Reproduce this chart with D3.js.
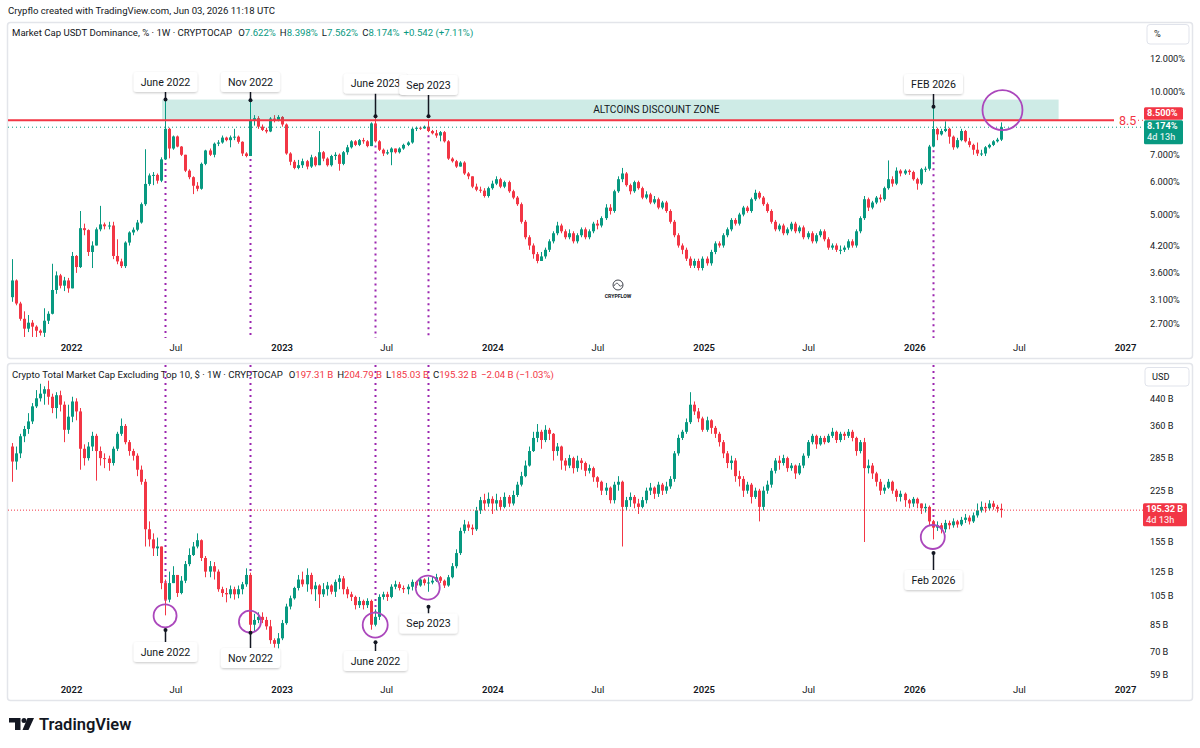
<!DOCTYPE html>
<html>
<head>
<meta charset="utf-8">
<script src="https://cdn.jsdelivr.net/npm/d3@7"></script>
<style>
  body { margin: 0; background: #fff; }
  text { font-family: Roboto, "Noto Sans", sans-serif; }
</style>
</head>
<body>
<svg id="chart" width="1200" height="748"></svg>
<script>
// weekly bars, first bar starts this monday
const firstWeek = "2021-09-20";

// Market Cap USDT Dominance, % (weekly)
const usdtOpen0 = 3.14;
const usdtClose = [
  3.45, 3.03, 2.78, 2.63, 2.72, 2.66, 2.60, 2.57, 2.75, 2.86,
  3.27, 3.55, 3.35, 3.45, 3.30, 3.96, 3.72, 4.63, 4.58, 4.05,
  4.20, 4.60, 4.73, 4.68, 4.70, 3.96, 3.84, 3.74, 4.27, 4.52,
  4.59, 4.78, 5.30, 5.94, 6.23, 6.25, 6.05, 6.82, 8.10, 7.25,
  7.76, 7.33, 7.00, 6.40, 6.17, 5.88, 5.78, 6.65, 7.17, 7.00,
  7.45, 7.50, 7.71, 7.60, 7.72, 7.75, 7.53, 7.05, 6.95, 8.50,
  8.60, 8.20, 8.05, 7.98, 8.58, 8.50, 8.66, 8.30, 7.05, 6.73,
  6.50, 6.60, 6.75, 6.55, 6.90, 6.60, 7.10, 6.85, 6.60, 6.95,
  7.00, 6.65, 7.10, 7.30, 7.55, 7.40, 7.60, 7.55, 7.35, 8.35,
  7.55, 7.20, 7.05, 7.10, 7.25, 7.10, 7.25, 7.40, 7.50, 8.10,
  8.15, 8.12, 8.20, 8.00, 7.90, 7.80, 7.95, 7.55, 6.85, 6.75,
  6.55, 6.70, 6.30, 6.20, 5.85, 5.75, 5.72, 5.55, 5.80, 5.95,
  6.10, 5.85, 6.00, 5.70, 5.50, 5.30, 4.80, 4.40, 4.20, 4.00,
  3.85, 3.95, 4.10, 4.30, 4.50, 4.70, 4.55, 4.40, 4.50, 4.30,
  4.45, 4.60, 4.40, 4.55, 4.75, 4.70, 4.90, 5.20, 5.10, 5.70,
  6.10, 6.30, 5.90, 5.70, 6.00, 5.80, 5.50, 5.60, 5.35, 5.45,
  5.20, 5.35, 5.10, 4.80, 4.45, 4.20, 4.10, 3.90, 3.75, 3.85,
  3.70, 3.90, 3.80, 4.05, 4.25, 4.20, 4.45, 4.60, 4.85, 4.75,
  5.00, 5.20, 5.10, 5.45, 5.65, 5.50, 5.30, 5.10, 4.80, 4.60,
  4.70, 4.50, 4.60, 4.75, 4.55, 4.65, 4.40, 4.50, 4.30, 4.45,
  4.55, 4.35, 4.15, 4.20, 4.10, 4.10, 4.15, 4.30, 4.20, 4.55,
  4.90, 5.45, 5.20, 5.35, 5.50, 5.45, 5.80, 6.10, 5.95, 6.40,
  6.30, 6.40, 6.35, 6.10, 5.95, 6.45, 6.47, 7.33, 8.09, 7.85,
  8.00, 8.10, 7.75, 7.30, 7.60, 8.00, 7.55, 7.40, 7.20, 7.05,
  7.05, 7.30, 7.40, 7.55, 7.622, 8.174
];
const usdtHigh = [
  3.89, 3.47, 3.06, 2.90, 2.84, 2.76, 2.68, 2.62, 2.95, 2.90,
  3.79, 3.63, 3.58, 3.52, 3.50, 4.05, 3.98, 5.10, 4.75, 4.60,
  4.30, 4.65, 5.25, 4.78, 4.80, 4.80, 4.35, 3.90, 4.30, 4.55,
  4.65, 4.85, 5.35, 7.22, 6.30, 6.35, 6.30, 6.90, 9.55, 8.15,
  7.80, 7.80, 7.35, 7.00, 6.45, 6.20, 6.00, 6.70, 7.20, 7.25,
  7.50, 7.60, 7.80, 7.75, 7.80, 8.10, 7.80, 7.55, 7.10, 9.52,
  8.75, 8.70, 8.30, 8.15, 8.65, 8.75, 8.75, 8.70, 8.35, 7.10,
  6.80, 6.80, 6.85, 6.80, 7.00, 6.95, 8.00, 7.15, 6.90, 7.00,
  7.10, 7.05, 7.15, 7.40, 7.60, 7.60, 7.65, 7.70, 7.60, 8.40,
  8.75, 7.60, 7.25, 7.20, 7.30, 7.25, 7.30, 7.45, 7.55, 8.15,
  8.20, 8.20, 8.25, 8.50, 8.05, 8.05, 8.00, 8.00, 7.60, 6.90,
  6.80, 6.75, 6.75, 6.35, 6.20, 5.95, 5.85, 5.80, 5.85, 6.05,
  6.20, 6.15, 6.05, 6.05, 5.75, 5.55, 5.35, 4.85, 4.45, 4.25,
  4.05, 4.05, 4.15, 4.35, 4.55, 4.80, 4.75, 4.60, 4.60, 4.55,
  4.50, 4.65, 4.65, 4.60, 4.80, 4.85, 4.95, 5.30, 5.30, 5.75,
  6.20, 6.50, 6.35, 5.95, 6.05, 6.05, 5.85, 5.70, 5.65, 5.55,
  5.50, 5.40, 5.40, 5.15, 4.85, 4.50, 4.25, 4.15, 3.95, 3.90,
  3.90, 3.95, 3.95, 4.10, 4.30, 4.30, 4.50, 4.65, 4.90, 4.90,
  5.05, 5.25, 5.25, 5.50, 5.75, 5.70, 5.55, 5.35, 5.15, 4.85,
  4.75, 4.75, 4.65, 4.80, 4.80, 4.70, 4.70, 4.55, 4.55, 4.50,
  4.60, 4.60, 4.40, 4.25, 4.25, 4.20, 4.20, 4.35, 4.35, 4.60,
  4.95, 5.55, 5.50, 5.40, 5.55, 5.60, 5.85, 6.78, 6.20, 6.52,
  6.45, 6.45, 6.45, 6.40, 6.15, 6.50, 6.55, 7.40, 9.17, 8.15,
  8.10, 8.45, 8.15, 7.80, 7.70, 8.10, 8.05, 7.70, 7.45, 7.50,
  7.20, 7.35, 7.45, 7.60, 7.70, 8.398
];
const usdtLow = [
  3.06, 3.00, 2.75, 2.51, 2.58, 2.51, 2.51, 2.53, 2.51, 2.70,
  2.85, 3.20, 3.30, 3.25, 3.22, 3.30, 3.60, 3.70, 4.45, 3.96,
  3.70, 4.20, 4.55, 4.60, 4.60, 3.89, 3.78, 3.70, 3.70, 4.20,
  4.45, 4.55, 4.75, 5.25, 5.88, 5.90, 5.95, 6.00, 6.80, 6.86,
  7.20, 7.30, 6.95, 6.35, 6.10, 5.61, 5.70, 5.75, 6.60, 6.95,
  6.90, 7.35, 7.45, 7.55, 7.30, 7.60, 7.45, 6.95, 6.90, 6.95,
  8.25, 8.10, 8.00, 7.90, 7.95, 8.40, 8.45, 8.20, 7.00, 6.60,
  6.45, 6.45, 6.50, 6.45, 6.50, 6.55, 6.60, 6.75, 6.55, 6.55,
  6.80, 6.40, 6.60, 7.00, 7.25, 7.35, 7.35, 7.45, 7.30, 7.35,
  7.50, 7.15, 6.95, 7.00, 6.60, 7.05, 7.05, 7.20, 7.35, 7.45,
  8.00, 8.05, 8.10, 7.95, 7.85, 7.70, 7.55, 7.50, 6.80, 6.70,
  6.50, 6.55, 6.25, 6.10, 5.80, 5.70, 5.65, 5.50, 5.50, 5.75,
  5.90, 5.80, 5.80, 5.65, 5.45, 5.25, 4.75, 4.35, 4.10, 3.90,
  3.80, 3.85, 3.90, 4.05, 4.25, 4.45, 4.50, 4.35, 4.35, 4.25,
  4.25, 4.40, 4.35, 4.35, 4.50, 4.60, 4.65, 4.85, 5.00, 5.05,
  5.65, 6.00, 5.85, 5.60, 5.65, 5.75, 5.45, 5.45, 5.30, 5.30,
  5.15, 5.15, 5.05, 4.75, 4.40, 4.15, 4.00, 3.85, 3.70, 3.70,
  3.65, 3.65, 3.75, 3.75, 4.00, 4.15, 4.15, 4.40, 4.55, 4.70,
  4.70, 4.95, 5.05, 5.05, 5.40, 5.45, 5.25, 5.05, 4.75, 4.55,
  4.55, 4.45, 4.45, 4.55, 4.50, 4.50, 4.35, 4.35, 4.25, 4.25,
  4.40, 4.30, 4.10, 4.10, 4.05, 4.00, 4.05, 4.10, 4.15, 4.15,
  4.50, 4.85, 5.10, 5.15, 5.30, 5.35, 5.40, 5.75, 5.85, 5.90,
  6.20, 6.25, 6.25, 6.05, 5.75, 5.90, 6.35, 6.40, 7.30, 7.60,
  7.80, 7.95, 7.45, 7.20, 7.25, 7.55, 7.50, 7.30, 7.00, 6.95,
  6.95, 6.95, 7.25, 7.35, 7.50, 7.562
];

// Crypto Total Market Cap Excluding Top 10, $ billions (weekly)
const othersOpen0 = 310;
const othersClose = [
  278, 295, 334, 352, 372, 415, 440, 455, 470, 445,
  410, 450, 420, 350, 385, 430, 400, 305, 285, 310,
  335, 300, 285, 284, 275, 305, 340, 360, 320, 300,
  290, 262, 240, 170, 158, 148, 150, 115, 102, 115,
  122, 107, 117, 132, 141, 150, 157, 138, 125, 130,
  125, 110, 107, 106, 110, 106, 110, 114, 122, 85,
  88, 90, 88, 84, 76, 74, 77, 86, 97, 103,
  111, 118, 114, 122, 110, 113, 106, 110, 113, 108,
  116, 119, 110, 106, 104, 98, 101, 98, 101, 85,
  90, 104, 106, 104, 112, 114, 111, 110, 112, 116,
  113, 118, 115, 115.5, 117, 120, 117, 113, 120, 130,
  143, 168, 176, 172, 170, 195, 210, 205, 212, 205,
  210, 200, 215, 205, 218, 235, 250, 270, 300, 330,
  345, 325, 350, 340, 300, 310, 280, 270, 285, 265,
  280, 275, 260, 265, 248, 240, 225, 230, 210, 235,
  240, 200, 210, 215, 205, 200, 210, 225, 230, 220,
  235, 225, 232, 245, 295, 330, 345, 370, 420, 400,
  380, 350, 375, 355, 340, 320, 295, 275, 280, 250,
  245, 225, 235, 215, 225, 200, 225, 235, 260, 280,
  275, 285, 265, 270, 255, 270, 290, 320, 335, 315,
  330, 320, 335, 345, 325, 340, 335, 345, 330, 300,
  320, 265, 270, 255, 240, 225, 230, 240, 225, 215,
  220, 210, 205, 212, 205, 198, 200, 180, 172, 175,
  170, 178, 175, 180, 176, 182, 185, 180, 188, 195,
  200, 198, 205, 200, 197.31, 195.32
];
const othersHigh = [
  318, 310, 340, 360, 395, 425, 467, 489, 480, 500,
  455, 460, 465, 430, 420, 445, 440, 410, 315, 320,
  345, 340, 310, 295, 290, 310, 345, 380, 365, 325,
  305, 295, 270, 245, 180, 165, 160, 150, 118, 125,
  130, 122, 121, 135, 148, 155, 165, 158, 140, 135,
  134, 127, 112, 111, 113, 112, 113, 116, 128, 124,
  92, 93, 93, 90, 88, 77, 80, 88, 99, 105,
  112, 122, 125, 128, 124, 116, 114, 115, 116, 114,
  118, 122, 121, 112, 108, 105, 104, 102, 103, 102,
  95, 106, 108, 108, 114, 117, 116, 113, 114, 118,
  117, 120, 119, 120, 121, 123, 121, 118, 122, 133,
  147, 172, 182, 180, 176, 200, 215, 220, 222, 216,
  220, 215, 222, 218, 225, 240, 258, 280, 310, 345,
  365, 350, 362, 355, 342, 318, 312, 285, 292, 288,
  290, 285, 278, 272, 268, 250, 242, 238, 232, 240,
  250, 242, 215, 222, 218, 212, 215, 230, 238, 232,
  240, 238, 240, 250, 300, 338, 350, 380, 460, 430,
  410, 385, 385, 378, 360, 345, 325, 300, 290, 285,
  260, 250, 240, 238, 230, 228, 232, 242, 265, 285,
  290, 292, 288, 275, 272, 275, 295, 325, 340, 338,
  335, 335, 340, 355, 348, 345, 345, 352, 350, 333,
  325, 330, 282, 275, 258, 245, 235, 245, 242, 228,
  225, 222, 212, 215, 214, 205, 205, 202, 182, 180,
  178, 182, 181, 184, 182, 186, 190, 188, 192, 205,
  208, 206, 210, 209, 203, 204.79
];
const othersLow = [
  240, 262, 285, 320, 340, 365, 410, 430, 420, 420,
  395, 380, 400, 320, 340, 370, 375, 262, 270, 280,
  300, 242, 270, 265, 260, 270, 300, 335, 315, 290,
  280, 250, 235, 150, 150, 140, 140, 110, 91, 100,
  115, 104, 106, 115, 130, 140, 148, 135, 120, 120,
  118, 108, 104, 100, 103, 102, 103, 106, 112, 80,
  81, 86, 86, 82, 74, 72, 70, 76, 85, 95,
  102, 109, 112, 108, 106, 101, 96, 104, 105, 106,
  104, 110, 106, 103, 101, 95, 96, 95, 96, 82,
  84, 88, 102, 101, 103, 110, 109, 107, 106, 109,
  111, 112, 113, 108, 114, 116, 115, 111, 112, 119,
  128, 141, 165, 168, 163, 168, 190, 195, 200, 190,
  195, 195, 198, 200, 202, 215, 232, 248, 268, 298,
  320, 305, 320, 325, 280, 290, 262, 260, 265, 255,
  258, 262, 250, 255, 240, 230, 218, 218, 205, 205,
  225, 150, 195, 200, 198, 190, 198, 205, 218, 212,
  215, 218, 220, 228, 240, 290, 325, 340, 365, 390,
  370, 345, 345, 340, 330, 310, 285, 265, 262, 240,
  232, 215, 220, 205, 212, 180, 195, 220, 230, 255,
  262, 270, 258, 260, 245, 252, 265, 285, 315, 305,
  312, 315, 318, 330, 318, 320, 325, 330, 322, 290,
  295, 155, 255, 245, 232, 218, 220, 228, 220, 208,
  208, 200, 198, 200, 198, 190, 192, 175, 158, 168,
  165, 166, 170, 172, 172, 174, 178, 176, 178, 185,
  192, 192, 195, 196, 192, 185.03
];

const usdtTicks = [12, 10, 7, 6, 5, 4.2, 3.6, 3.1, 2.7];
const othersTicks = [440, 360, 285, 225, 155, 125, 105, 85, 70, 59];
const timeTicks = ["2022-01-01", "2022-07-01", "2023-01-01", "2023-07-01", "2024-01-01",
  "2024-07-01", "2025-01-01", "2025-07-01", "2026-01-01", "2026-07-01", "2027-01-01"];

// annotations (bar index of the marked week)
const eventBars = [38, 59, 90, 103, 228];
const topCallouts = [
  {label: "June 2022", bar: 38, anchor: 9.55, boxY: 82},
  {label: "Nov 2022", bar: 59, anchor: 9.52, boxY: 82},
  {label: "June 2023", bar: 90, anchor: 8.7, boxY: 83.5},
  {label: "Sep 2023", bar: 103, anchor: 8.7, boxY: 85},
  {label: "FEB 2026", bar: 228, anchor: 9.17, boxY: 84}
];
const bottomCallouts = [
  {label: "June 2022", bar: 38, anchor: 81.8, boxY: 652},
  {label: "Nov 2022", bar: 59, anchor: 80.2, boxY: 658},
  {label: "June 2022", bar: 90, anchor: 74.8, boxY: 661},
  {label: "Sep 2023", bar: 103, anchor: 96.9, boxY: 623.5},
  {label: "Feb 2026", bar: 228, anchor: 143, boxY: 580}
];
const bottomCircles = [
  {bar: 38, value: 90.7, r: 11.5},
  {bar: 59, value: 86.9, r: 11},
  {bar: 90, value: 84.8, r: 12.5},
  {bar: 103, value: 111.2, r: 12},
  {bar: 228, value: 160.7, r: 12}
];
const topCircle = {bar: 245, value: 9.0, r: 20};
const zoneTop = 9.55, zoneBottom = 8.5, zoneEnd = "2026-09-08", zoneLabelDate = "2024-10-11";

const upColor = "#089981", downColor = "#f23645", textColor = "#131722";
const purple = "#9c27b0", circleColor = "#ab47bc";

const parseDate = d3.utcParse("%Y-%m-%d");
const t0 = parseDate(firstWeek);
const barDate = i => d3.utcWeek.offset(t0, i);

function makeBars(open0, close, high, low) {
  return close.map((c, i) => ({
    date: barDate(i),
    open: i ? close[i - 1] : open0,
    high: high[i], low: low[i], close: c
  }));
}
const usdtBars = makeBars(usdtOpen0, usdtClose, usdtHigh, usdtLow);
const othersBars = makeBars(othersOpen0, othersClose, othersHigh, othersLow);

const svg = d3.select("#chart");
const plotLeft = 8, plotRight = 1140;

const x = d3.scaleUtc()
  .domain([parseDate("2022-01-01"), parseDate("2027-01-01")])
  .range([71, 1125]);
const yTop = d3.scaleLog().domain([2.7, 12]).range([324, 59]);
const yBot = d3.scaleLog().domain([59, 440]).range([675, 398.3]);

const defs = svg.append("defs");
defs.append("clipPath").attr("id", "clipTop").append("rect")
  .attr("x", plotLeft).attr("y", 23).attr("width", plotRight - plotLeft).attr("height", 315);
defs.append("clipPath").attr("id", "clipBot").append("rect")
  .attr("x", plotLeft).attr("y", 364).attr("width", plotRight - plotLeft).attr("height", 316);
defs.append("clipPath").attr("id", "clipBotAxis").append("rect")
  .attr("x", plotRight).attr("y", 364).attr("width", 60).attr("height", 314);
defs.append("filter").attr("id", "shadow")
  .attr("x", "-20%").attr("y", "-30%").attr("width", "140%").attr("height", "170%")
  .append("feDropShadow")
    .attr("dx", 0).attr("dy", 1).attr("stdDeviation", 1.2)
    .attr("flood-color", "#000").attr("flood-opacity", 0.22);

// header
svg.append("text")
  .attr("x", 8).attr("y", 14)
  .attr("font-size", 9.6).attr("fill", textColor)
  .text("Crypflo created with TradingView.com, Jun 03, 2026 11:18 UTC");

// panel frames
[[22, 336], [363, 337]].forEach(([py, ph]) => {
  svg.append("rect")
    .attr("x", 7.5).attr("y", py + 0.5).attr("width", 1185).attr("height", ph)
    .attr("rx", 3).attr("fill", "#fff").attr("stroke", "#e3e5ea").attr("stroke-width", 1.5);
});

function legend(yPos, name, parts, color) {
  const t = svg.append("text").attr("x", 12).attr("y", yPos)
    .attr("font-size", 9.6).attr("fill", textColor);
  t.append("tspan").text(name);
  parts.forEach(([k, v], i) => {
    const gap = i === 0 ? 6 : 4;
    if (k) {
      t.append("tspan").attr("dx", gap).attr("fill", textColor).text(k);
      t.append("tspan").attr("fill", color).text(v);
    } else {
      t.append("tspan").attr("dx", gap).attr("fill", color).text(v);
    }
  });
}
legend(36, "Market Cap USDT Dominance, % \u00b7 1W \u00b7 CRYPTOCAP",
  [["O", "7.622%"], ["H", "8.398%"], ["L", "7.562%"], ["C", "8.174%"], ["", "+0.542 (+7.11%)"]], upColor);
legend(378, "Crypto Total Market Cap Excluding Top 10, $ \u00b7 1W \u00b7 CRYPTOCAP",
  [["O", "197.31 B"], ["H", "204.79 B"], ["L", "185.03 B"], ["C", "195.32 B"], ["", "\u22122.04 B (\u22121.03%)"]], downColor);

// time axes
function timeAxis(yPos) {
  const g = svg.append("g").attr("transform", `translate(0,${yPos})`);
  g.call(d3.axisBottom(x)
    .tickValues(timeTicks.map(parseDate))
    .tickSize(0)
    .tickFormat(d => d.getUTCMonth() === 0 ? d.getUTCFullYear() : "Jul"));
  g.select(".domain").remove();
  g.selectAll("text")
    .attr("font-family", "Roboto, sans-serif")
    .attr("font-size", 9.5)
    .attr("fill", textColor)
    .attr("font-weight", d => d.getUTCMonth() === 0 ? 600 : 400)
    .attr("dy", 0).attr("y", 0);
}
timeAxis(351);
timeAxis(693);

// price axes
function priceAxis(scale, ticks, fmt, clip) {
  const g = svg.append("g");
  if (clip) g.attr("clip-path", "url(#clipBotAxis)");
  g.selectAll("text").data(ticks).join("text")
    .attr("x", 1150).attr("y", d => scale(d))
    .attr("dy", "0.35em")
    .attr("font-size", 9.2).attr("fill", textColor)
    .text(fmt);
}
priceAxis(yTop, usdtTicks, d => d.toFixed(3) + "%", false);
priceAxis(yBot, othersTicks, d => d + " B", true);

// unit buttons
function unitButton(bx, by, w, h, label) {
  svg.append("rect").attr("x", bx).attr("y", by).attr("width", w).attr("height", h)
    .attr("rx", 3).attr("fill", "#fff").attr("stroke", "#e0e3eb");
  svg.append("text").attr("x", bx + 7).attr("y", by + h / 2).attr("dy", "0.35em")
    .attr("font-size", 9.2).attr("fill", textColor).text(label);
}
unitButton(1147, 24.5, 42, 19.5, "%");
unitButton(1145, 367.5, 44, 18.5, "USD");

function drawCandles(g, bars, y) {
  const bar = g.append("g").selectAll("g").data(bars).join("g")
    .attr("fill", d => d.close >= d.open ? upColor : downColor);
  bar.append("rect")
    .attr("x", d => Math.round(x(d.date)))
    .attr("width", 1)
    .attr("y", d => y(d.high))
    .attr("height", d => Math.max(1, y(d.low) - y(d.high)));
  bar.append("rect")
    .attr("x", d => Math.round(x(d.date)) - 1)
    .attr("width", 3)
    .attr("y", d => y(Math.max(d.open, d.close)))
    .attr("height", d => Math.max(1, Math.abs(y(d.open) - y(d.close))));
}

// ---------- top pane ----------
const gTop = svg.append("g").attr("clip-path", "url(#clipTop)");

// event lines behind candles
gTop.append("g").selectAll("line").data(eventBars).join("line")
  .attr("x1", i => Math.round(x(barDate(i))) + 0.5)
  .attr("x2", i => Math.round(x(barDate(i))) + 0.5)
  .attr("y1", i => yTop(usdtBars[i].low) + 3)
  .attr("y2", 338)
  .attr("stroke", purple).attr("stroke-width", 2).attr("stroke-dasharray", "2,4");

drawCandles(gTop, usdtBars, yTop);

// discount zone
const zoneX0 = x(barDate(topCallouts[0].bar)) - 3;
gTop.append("rect")
  .attr("x", zoneX0).attr("y", yTop(zoneTop))
  .attr("width", x(parseDate(zoneEnd)) - zoneX0)
  .attr("height", yTop(zoneBottom) - yTop(zoneTop))
  .attr("fill", upColor).attr("fill-opacity", 0.2);
svg.append("text")
  .attr("x", x(parseDate(zoneLabelDate)))
  .attr("y", (yTop(zoneTop) + yTop(zoneBottom)) / 2).attr("dy", "0.35em")
  .attr("text-anchor", "middle").attr("font-size", 10.2).attr("fill", textColor)
  .text("ALTCOINS DISCOUNT ZONE");

// current price line
svg.append("line")
  .attr("x1", plotLeft).attr("x2", 1143)
  .attr("y1", yTop(8.174)).attr("y2", yTop(8.174))
  .attr("stroke", upColor).attr("stroke-dasharray", "1,3");

// 8.5 level
svg.append("line")
  .attr("x1", plotLeft).attr("x2", 1114)
  .attr("y1", yTop(8.5)).attr("y2", yTop(8.5))
  .attr("stroke", downColor).attr("stroke-width", 2);
svg.append("text")
  .attr("x", 1119).attr("y", yTop(8.5)).attr("dy", "0.35em")
  .attr("font-size", 12.5).attr("fill", downColor).text("8.5");
svg.append("line")
  .attr("x1", 1138).attr("x2", 1143)
  .attr("y1", yTop(8.5)).attr("y2", yTop(8.5))
  .attr("stroke", downColor).attr("stroke-dasharray", "1,3");

// watermark
const wm = svg.append("g").attr("transform", "translate(618,285)");
wm.append("circle").attr("r", 5).attr("fill", "none").attr("stroke", textColor).attr("stroke-width", 0.8);
wm.append("path").attr("d", "M-4,1 C-2,-3 0,-2 1,0 C2,2 3,1 4.5,0")
  .attr("fill", "none").attr("stroke", textColor).attr("stroke-width", 0.7);
wm.append("text").attr("y", 13).attr("text-anchor", "middle")
  .attr("font-size", 5.2).attr("font-weight", 700).attr("fill", textColor).text("CRYPFLOW");

// top circle
svg.append("circle")
  .attr("cx", x(barDate(topCircle.bar)) + 1).attr("cy", yTop(topCircle.value)).attr("r", topCircle.r)
  .attr("fill", "none").attr("stroke", circleColor).attr("stroke-width", 1.8);

// ---------- bottom pane ----------
const gBot = svg.append("g").attr("clip-path", "url(#clipBot)");
const circleByBar = new Map(bottomCircles.map(c => [c.bar, c]));

gBot.append("g").selectAll("line").data(eventBars).join("line")
  .attr("x1", i => Math.round(x(barDate(i))) + 0.5)
  .attr("x2", i => Math.round(x(barDate(i))) + 0.5)
  .attr("y1", 365)
  .attr("y2", i => yBot(circleByBar.get(i).value) - circleByBar.get(i).r)
  .attr("stroke", purple).attr("stroke-width", 2).attr("stroke-dasharray", "2,4");

drawCandles(gBot, othersBars, yBot);

svg.append("line")
  .attr("x1", plotLeft).attr("x2", 1143)
  .attr("y1", yBot(195.32)).attr("y2", yBot(195.32))
  .attr("stroke", downColor).attr("stroke-dasharray", "1,2");

svg.append("g").selectAll("circle").data(bottomCircles).join("circle")
  .attr("cx", d => x(barDate(d.bar)))
  .attr("cy", d => yBot(d.value))
  .attr("r", d => d.r)
  .attr("fill", "none").attr("stroke", circleColor).attr("stroke-width", 1.8);

// ---------- callouts ----------
function callouts(list, y, above) {
  list.forEach(c => {
    const cx = Math.round(x(barDate(c.bar))) + 0.5;
    const ay = y(c.anchor);
    const g = svg.append("g");
    const boxH = 20;
    const edge = above ? c.boxY + boxH / 2 : c.boxY - boxH / 2;
    g.append("line").attr("x1", cx).attr("x2", cx).attr("y1", ay).attr("y2", edge)
      .attr("stroke", textColor).attr("stroke-width", 1.5);
    g.append("circle").attr("cx", cx).attr("cy", ay).attr("r", 2).attr("fill", textColor);
    const t = g.append("text").attr("x", cx).attr("y", c.boxY).attr("dy", "0.36em")
      .attr("text-anchor", "middle").attr("font-size", 10.6).attr("fill", textColor)
      .text(c.label);
    const w = t.node().getComputedTextLength() + 14;
    g.insert("rect", "text")
      .attr("x", cx - w / 2).attr("y", c.boxY - boxH / 2)
      .attr("width", w).attr("height", boxH).attr("rx", 3)
      .attr("fill", "#fff").attr("filter", "url(#shadow)");
  });
}
callouts(topCallouts, yTop, true);
callouts(bottomCallouts, yBot, false);

// ---------- price labels ----------
function priceTag(bx, by, w, h, fill, lines) {
  svg.append("rect").attr("x", bx).attr("y", by).attr("width", w).attr("height", h)
    .attr("rx", 1.5).attr("fill", fill);
  lines.forEach((l, i) => {
    svg.append("text").attr("x", bx + 3).attr("y", by + 9 + i * 11)
      .attr("font-size", 9.2).attr("font-weight", i === 0 ? 700 : 500)
      .attr("fill", "#fff").attr("fill-opacity", i === 0 ? 1 : 0.85).text(l);
  });
}
priceTag(1144, yTop(8.5) - 13, 39, 12.5, downColor, ["8.500%"]);
priceTag(1144, yTop(8.174) - 7, 39, 24, upColor, ["8.174%", "4d 13h"]);
priceTag(1143, yBot(195.32) - 7, 44, 23, downColor, ["195.32 B", "4d 13h"]);

// ---------- TradingView logo ----------
const logo = svg.append("g").attr("fill", textColor);
logo.append("path").attr("d", "M9,718 H20.5 V730 H15 V722.5 H9 Z");
logo.append("circle").attr("cx", 24).attr("cy", 720.4).attr("r", 2.5);
logo.append("path").attr("d", "M27.5,718 H34 L28.5,730 H22.5 Z");
logo.append("text").attr("x", 39).attr("y", 730)
  .attr("font-family", "Inter, Roboto, sans-serif")
  .attr("font-size", 16.5).attr("font-weight", 600).text("TradingView");
</script>
</body>
</html>
